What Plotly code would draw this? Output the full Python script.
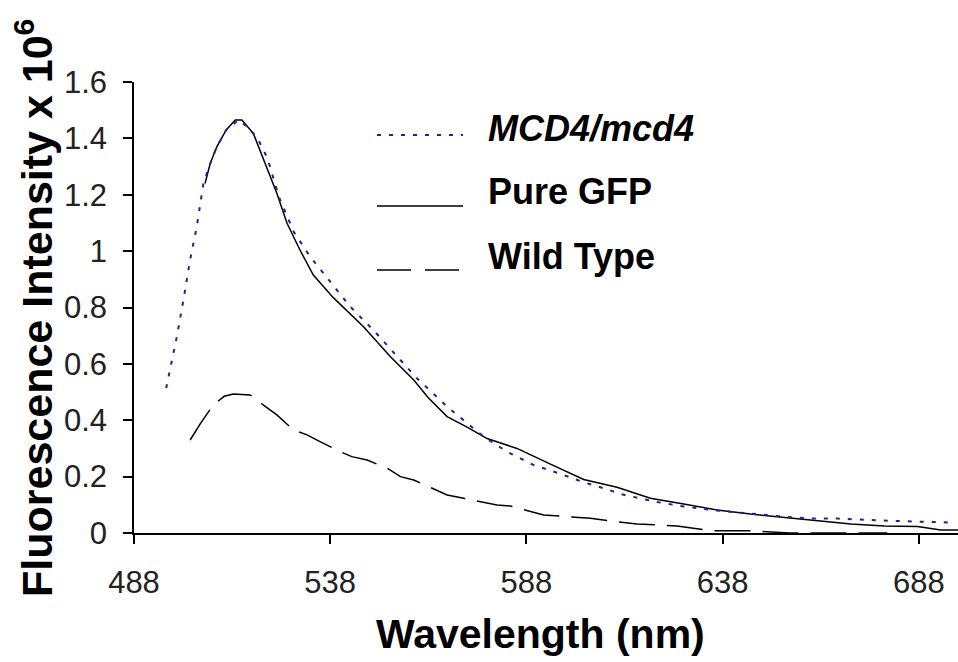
import plotly.graph_objects as go

# ---- data ----
gfp_wl = [506.1, 507.4, 509.1, 511.5, 513.8, 515.5, 518.4, 521.8, 524.4, 527.0, 530.3, 533.7,
          538.8, 546.5, 553.3, 559.3, 563.0, 567.8, 573.0, 578.0, 585.6, 594.0, 602.6, 611.1,
          619.6, 628.1, 636.6, 645.1, 653.6, 662.2, 670.7, 679.2, 687.7, 693.6, 698.0]
gfp_int = [1.24, 1.31, 1.37, 1.43, 1.465, 1.465, 1.418, 1.30, 1.205, 1.099, 1.004, 0.915,
           0.835, 0.732, 0.626, 0.543, 0.48, 0.413, 0.375, 0.335, 0.30, 0.245, 0.19, 0.162,
           0.123, 0.103, 0.082, 0.067, 0.056, 0.044, 0.032, 0.025, 0.023, 0.011, 0.011]

mcd_wl = [496.2, 498.9, 500.6, 502.3, 504.0, 505.7, 507.4, 509.1, 511.5, 514.6, 517.0, 519.5,
          522.0, 525.0, 528.7, 532.9, 538.0, 543.1, 549.0, 554.2, 560.1, 567.8, 577.1, 583.1,
          589.9, 595.8, 602.6, 608.6, 612.0, 621.3, 628.1, 634.9, 643.5, 653.6, 660.5, 667.3,
          679.2, 687.7, 696.2]
mcd_int = [0.514, 0.695, 0.827, 0.969, 1.087, 1.241, 1.31, 1.37, 1.43, 1.465, 1.44, 1.40,
           1.33, 1.19, 1.069, 0.98, 0.892, 0.803, 0.72, 0.638, 0.549, 0.448, 0.342, 0.288,
           0.241, 0.214, 0.18, 0.155, 0.138, 0.11, 0.094, 0.082, 0.07, 0.058, 0.051, 0.051,
           0.044, 0.04, 0.037]

wt_wl = [502.3, 505.0, 508.2, 511.0, 513.3, 517.6, 521.0, 524.4, 528.7, 532.1, 535.4, 540.6,
         543.5, 547.4, 552.5, 555.9, 559.3, 567.8, 572.0, 580.5, 583.9, 592.4, 596.7, 604.3,
         611.1, 616.2, 626.4, 634.9, 645.1, 655.0, 680.0]
wt_int = [0.33, 0.39, 0.454, 0.485, 0.493, 0.49, 0.454, 0.419, 0.365, 0.348, 0.324, 0.288,
          0.271, 0.259, 0.23, 0.20, 0.188, 0.135, 0.123, 0.099, 0.096, 0.064, 0.06, 0.052,
          0.04, 0.032, 0.025, 0.008, 0.008, 0.0, 0.0]

x_ticks = [488, 538, 588, 638, 688]
y_ticks = [0, 0.2, 0.4, 0.6, 0.8, 1.0, 1.2, 1.4, 1.6]
y_tick_text = ["0", "0.2", "0.4", "0.6", "0.8", "1", "1.2", "1.4", "1.6"]

series_names = ["MCD4/mcd4", "Pure GFP", "Wild Type"]

FONT = "Arial, 'Liberation Sans', sans-serif"
BLUE = "#2020a0"

fig = go.Figure()
fig.add_trace(go.Scatter(x=wt_wl, y=wt_int, mode="lines", name=series_names[2],
                         line=dict(color="black", width=1.5, dash="36px,12px")))
fig.add_trace(go.Scatter(x=gfp_wl, y=gfp_int, mode="lines", name=series_names[1],
                         line=dict(color="black", width=1.5)))
fig.add_trace(go.Scatter(x=mcd_wl, y=mcd_int, mode="lines", name=series_names[0],
                         line=dict(color=BLUE, width=2, dash="4px,8px")))

W, H = 958, 662
L, R, T, B = 134, 0, 82, 129
pw, ph = W - L - R, H - T - B


def px(x):
    return (x - L) / pw


def py(y):
    return (H - B - y) / ph


# manual legend
leg_rows = [
    (135, 128, dict(color=BLUE, width=2, dash="4px,8px"), "<b><i>MCD4/mcd4</i></b>"),
    (206, 191, dict(color="black", width=1.5), "<b>Pure GFP</b>"),
    (270, 256, dict(color="black", width=1.5, dash="34px,14px"), "<b>Wild Type</b>"),
]
shapes = []
annotations = []
for ly, ty, ln, txt in leg_rows:
    shapes.append(dict(type="line", xref="paper", yref="paper", x0=px(377), x1=px(463),
                       y0=py(ly), y1=py(ly), line=ln))
    annotations.append(dict(xref="paper", yref="paper", x=px(486), y=py(ty), text=txt,
                            showarrow=False, xanchor="left", yanchor="middle",
                            font=dict(family=FONT, size=36, color="black")))

annotations.append(dict(xref="paper", yref="paper", x=px(540), y=py(634),
                        text="<b>Wavelength (nm)</b>", showarrow=False,
                        xanchor="center", yanchor="middle",
                        font=dict(family=FONT, size=41, color="black")))
annotations.append(dict(xref="paper", yref="paper", x=px(34), y=py(308),
                        text="<b>Fluorescence Intensity x 10<sup>6</sup></b>", showarrow=False,
                        textangle=-90, xanchor="center", yanchor="middle",
                        font=dict(family=FONT, size=43, color="black")))

fig.update_layout(
    width=W, height=H,
    margin=dict(l=L, r=R, t=T, b=B, autoexpand=False),
    paper_bgcolor="white", plot_bgcolor="white",
    showlegend=False,
    shapes=shapes, annotations=annotations,
    font=dict(family=FONT, color="#222222"),
)
fig.update_xaxes(range=[488, 698], tickvals=x_ticks, ticktext=[str(v) for v in x_ticks],
                 showline=True, linecolor="black", linewidth=1.5, showgrid=False, zeroline=False,
                 ticks="outside", ticklen=9, tickwidth=1.5, tickcolor="black",
                 tickfont=dict(family=FONT, size=31, color="#222222"), ticklabelstandoff=12)
fig.update_yaxes(range=[0, 1.6], tickvals=y_ticks, ticktext=y_tick_text,
                 showline=True, linecolor="black", linewidth=1.5, showgrid=False, zeroline=False,
                 ticks="outside", ticklen=9, tickwidth=1.5, tickcolor="black",
                 tickfont=dict(family=FONT, size=31, color="#222222"), ticklabelstandoff=10)

fig.write_html("out.html")
